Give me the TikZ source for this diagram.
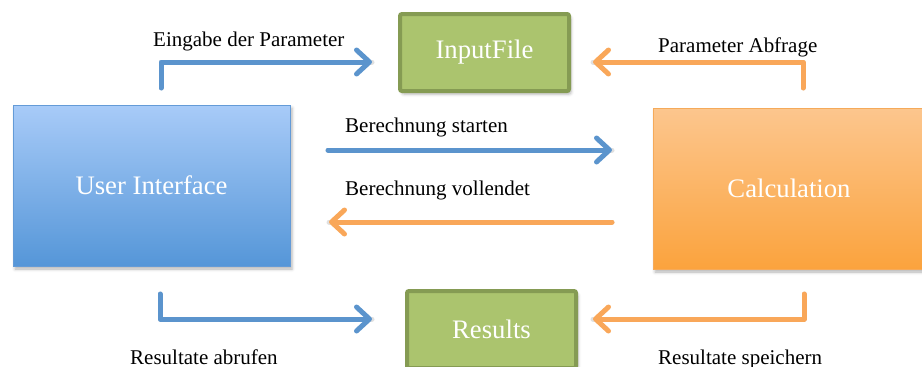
\documentclass[tikz,border=0pt]{standalone}
\usepackage{fontspec}
\setmainfont{Liberation Serif}[Ligatures=TeX]
\newfontfamily\tms{Liberation Serif}
\usetikzlibrary{arrows.meta,shadows.blur}
\definecolor{arrblue}{RGB}{91,148,205}
\definecolor{arrorange}{RGB}{249,167,89}
\definecolor{grfill}{RGB}{171,196,110}
\definecolor{grdraw}{RGB}{133,155,83}
\definecolor{uitop}{RGB}{168,203,248}
\definecolor{uibot}{RGB}{85,150,216}
\definecolor{uidraw}{RGB}{100,155,215}
\definecolor{catop}{RGB}{252,198,142}
\definecolor{cabot}{RGB}{251,163,61}
\definecolor{cadraw}{RGB}{245,170,90}
\tikzset{
  boxtext/.style={text=white,font=\tms\fontsize{26.7}{30}\selectfont},
  bigbox/.style={boxtext,anchor=north west,inner sep=0pt,outer sep=0pt,line width=1pt,
    blur shadow={shadow xshift=2pt,shadow yshift=-3pt,shadow opacity=30,shadow blur radius=3pt}},
  greenbox/.style={boxtext,anchor=north west,inner sep=0pt,outer sep=0pt,fill=grfill,draw=grdraw,
    line width=4pt,rounded corners=2pt,minimum width=169pt,minimum height=77pt,
    blur shadow={shadow xshift=2pt,shadow yshift=-3pt,shadow opacity=30,shadow blur radius=3pt}},
  lbl/.style={anchor=base west,inner sep=0pt,font=\tms\fontsize{21}{25}\selectfont},
  flow/.style={line width=5pt,line cap=round,line join=round,
    -{Straight Barb[length=13pt,width=24pt,line cap=round,line join=round]}},
  shad/.style={line width=5pt,line cap=round,line join=round,draw=black,opacity=0.12},
}
\begin{document}
\begin{tikzpicture}[x=1pt,y=-1pt]
\useasboundingbox (0,0) rectangle (922,367);
% boxes
\node[bigbox,top color=uitop,bottom color=uibot,draw=uidraw,minimum width=277pt,minimum height=161pt] (ui) at (13,105) {User Interface};
\node[bigbox,top color=catop,bottom color=cabot,draw=cadraw,minimum width=272pt,minimum height=161pt] (calc) at (653,108) {Calculation};
\node[greenbox] (in) at (400,14) {InputFile};
\node[greenbox] (res) at (407,291) {Results};
% connector end points
\coordinate (a1) at (161,88);  \coordinate (a1c) at (161,62);  \coordinate (a1e) at (372,62);
\coordinate (a2) at (803,88);  \coordinate (a2c) at (803,62);  \coordinate (a2e) at (593,62);
\coordinate (b1) at (328,150); \coordinate (b1e) at (612,150);
\coordinate (b2) at (612,222); \coordinate (b2e) at (329,222);
\coordinate (c1) at (160,294); \coordinate (c1c) at (160,319); \coordinate (c1e) at (372,319);
\coordinate (c2) at (804,294); \coordinate (c2c) at (804,319); \coordinate (c2e) at (593,319);
% shadows of connectors
\begin{scope}[shift={(2,3)}]
\draw[shad] (a1) -- (a1c) -- (a1e);
\draw[shad] (a2) -- (a2c) -- (a2e);
\draw[shad] (b1) -- (b1e);
\draw[shad] (b2) -- (b2e);
\draw[shad] (c1) -- (c1c) -- (c1e);
\draw[shad] (c2) -- (c2c) -- (c2e);
\end{scope}
% connectors
\draw[flow,arrblue] (a1) -- (a1c) -- (a1e);
\draw[flow,arrorange] (a2) -- (a2c) -- (a2e);
\draw[flow,arrblue] (b1) -- (b1e);
\draw[flow,arrorange] (b2) -- (b2e);
\draw[flow,arrblue] (c1) -- (c1c) -- (c1e);
\draw[flow,arrorange] (c2) -- (c2c) -- (c2e);
% labels
\node[lbl] (l1) at (153,46) {Eingabe der Parameter};
\node[lbl] (l2) at (658,52) {Parameter Abfrage};
\node[lbl] (l3) at (345,132) {Berechnung starten};
\node[lbl] (l4) at (345,195) {Berechnung vollendet};
\node[lbl] (l5) at (130,364) {Resultate abrufen};
\node[lbl] (l6) at (658,364) {Resultate speichern};
\end{tikzpicture}
\end{document}
